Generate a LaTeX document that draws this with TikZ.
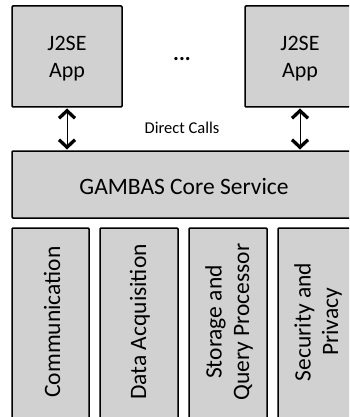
\documentclass[tikz,border=0pt]{standalone}
\usepackage{fontspec}
\setmainfont{Carlito}
\usetikzlibrary{arrows.meta}
\definecolor{boxgray}{RGB}{209,209,209}
\tikzset{
  box/.style={draw=black, fill=boxgray, line width=1.5pt, rounded corners=1pt, inner sep=0pt},
  lbl/.style={font=\fontsize{22}{27}\selectfont, align=center},
  vlbl/.style={font=\fontsize{23.5}{27.5}\selectfont, align=center, rotate=90},
  dbl/.style={line width=1pt, {Straight Barb[line width=3.3pt, length=7.5pt, width=16pt]}-{Straight Barb[line width=3.3pt, length=7.5pt, width=16pt]}, shorten <=1.5pt, shorten >=1.5pt}
}
\begin{document}
\begin{tikzpicture}[x=1pt,y=-1pt]
\useasboundingbox (0,0) rectangle (349,417);
\clip (0,0) rectangle (349,417);
\fill[white] (0,0) rectangle (349,417);
% top apps
\draw[box] (12,6) rectangle (122,107);
\node[lbl] (app1) at (67,59) {J2SE\\App};
\draw[box] (245,6) rectangle (355,107);
\node[lbl] (app2) at (300,59) {J2SE\\App};
\node[font=\fontsize{22}{24}\selectfont] (dots) at (182,59) {\textbf{...}};
% core
\draw[box] (12,151) rectangle (356,218);
\node[font=\fontsize{23.5}{26}\selectfont] (core) at (184,186) {GAMBAS Core Service};
\node[font=\fontsize{16.5}{18}\selectfont] (dc) at (182,128) {Direct Calls};
% arrows
\coordinate (a1t) at (67,107);
\coordinate (a1b) at (67,151);
\coordinate (a2t) at (300,107);
\coordinate (a2b) at (300,151);
\draw[dbl] (a1t) -- (a1b);
\draw[dbl] (a2t) -- (a2b);
% bottom modules
\draw[box] (12,228) rectangle (89,424);
\node[vlbl] (m1) at (52,322) {Communication};
\draw[box] (100,228) rectangle (178,424);
\node[vlbl] (m2) at (140,322) {Data Acquisition};
\draw[box] (189,228) rectangle (267,424);
\node[vlbl] (m3) at (229,322) {Storage and\\Query Processor};
\draw[box] (278,228) rectangle (356,424);
\node[vlbl] (m4) at (318,322) {Security and\\Privacy};
\end{tikzpicture}
\end{document}
